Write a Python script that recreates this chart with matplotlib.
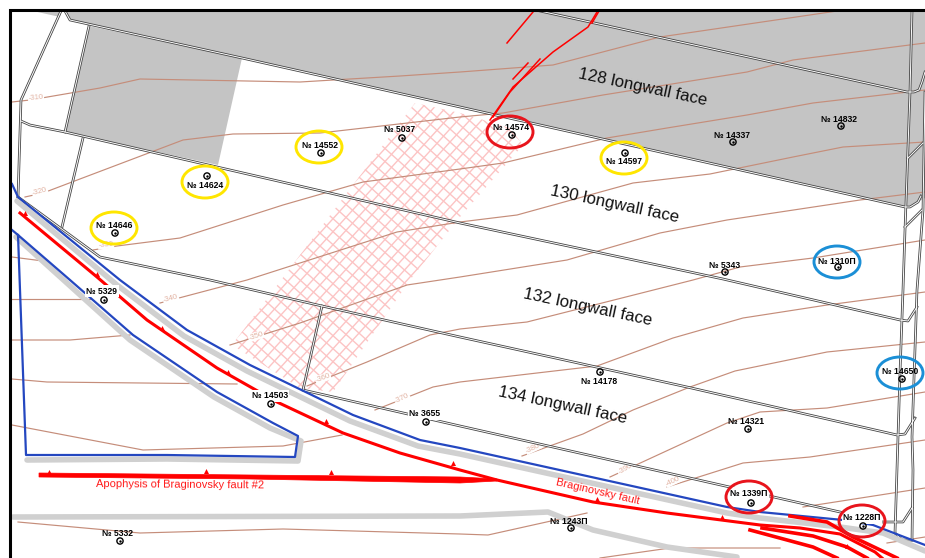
import numpy as np
import matplotlib
matplotlib.use('Agg')
import matplotlib.pyplot as plt
from matplotlib.patches import Ellipse, Polygon

plt.rcParams['font.family'] = ['Liberation Sans', 'DejaVu Sans']

gray_upper = [(65, 11), (70, 20), (242, 58), (460, 107), (905, 207), (910, 207), (918, 202), (925, 198), (925, 11)]
gray_left = [(89, 26), (242, 58), (218, 165), (65, 132)]
gray_corner = [(33, 11), (61, 11), (60, 17)]
hatch_band = [(415, 103), (460, 113), (510, 128), (523, 145), (460, 217), (410, 280), (333, 392), (300, 388),
              (232, 345)]

roads = [
    [(65, 11), (70, 20), (242, 58), (460, 107), (905, 207), (910, 207), (918, 202), (921, 196)],
    [(540, 11), (907, 92), (914, 92), (919, 90), (922, 82), (925, 72)],
    [(21, 121), (30, 125), (65, 132), (330, 193), (460, 223), (723, 279), (900, 320), (908, 321), (917, 307)],
    [(18, 197), (100, 257), (210, 280), (322, 306), (460, 337), (687, 387), (897, 435), (905, 434), (915, 418)],
    [(303, 390), (460, 426), (840, 512), (880, 522), (903, 522), (912, 508)],
    [(61, 11), (21, 100), (18, 197)],
    [(89, 26), (65, 132)],
    [(83, 138), (62, 227)],
    [(322, 306), (303, 390)],
    [(912, 11), (910, 92), (905, 230), (903, 290), (900, 373), (898, 437), (895, 533), (902, 540), (912, 540)],
    [(925, 92), (923, 210), (917, 290), (912, 437), (913, 470), (912, 540)],
    [(908, 158), (923, 143)],
    [(905, 227), (922, 210)],
]

contours = [
    [(12, 102), (30, 100), (100, 88), (140, 79), (300, 82), (400, 76), (460, 72), (553, 65), (660, 37), (837, 11)],
    [(25, 197), (43, 193), (72, 182), (183, 140), (233, 134), (320, 133), (460, 117), (503, 113), (603, 95),
     (747, 72), (793, 60), (925, 43)],
    [(93, 250), (117, 246), (180, 238), (283, 205), (363, 182), (460, 169), (503, 163), (607, 138), (667, 128),
     (747, 115), (813, 103), (925, 90)],
    [(160, 303), (247, 280), (300, 263), (397, 232), (460, 222), (517, 215), (633, 183), (710, 174), (793, 157),
     (843, 147), (925, 142)],
    [(230, 345), (300, 323), (407, 285), (460, 277), (567, 260), (660, 233), (727, 220), (860, 200), (925, 192)],
    [(307, 386), (367, 362), (430, 335), (460, 329), (527, 322), (693, 280), (740, 267), (813, 258), (925, 240)],
    [(375, 410), (433, 387), (460, 382), (597, 366), (673, 338), (743, 318), (827, 305), (925, 292)],
    [(522, 456), (583, 434), (633, 410), (690, 387), (735, 371), (827, 352), (925, 342)],
    [(610, 477), (727, 423), (760, 412), (827, 408), (925, 392)],
    [(667, 487), (743, 463), (810, 457), (925, 440)],
    [(803, 507), (925, 488)],
    [(12, 299), (90, 299)],
    [(12, 340), (70, 340), (130, 335)],
    [(12, 379), (47, 382), (237, 384)],
    [(12, 425), (143, 450), (283, 446), (342, 435)],
    [(12, 257), (43, 261)],
    [(18, 522), (140, 533), (283, 529), (460, 534), (488, 535), (587, 513)],
    [(600, 558), (670, 548), (780, 548)],
    [(887, 543), (925, 537)],
]
contour_labels = ['-310', '-320', '-330', '-340', '-350', '-360', '-370', '-380', '-390', '-400']
contour_label_x = [36, 40, 106, 171, 256, 323, 402, 533, 625, 673]
contour_label_y = [98, 192, 245, 299, 336, 378, 398, 448, 469, 481]
contour_label_rot = [5, 15, 5, 15, 18, 20, 25, 25, 30, 25]

blue_fault = [(12, 184), (18, 197), (120, 280), (187, 330), (250, 365), (353, 415), (420, 440), (460, 448),
              (727, 507), (760, 512), (843, 520), (873, 525), (925, 545)]
blue_block = [(12, 230), (18, 235), (70, 280), (133, 335), (217, 392), (273, 423), (298, 436), (295, 457),
              (167, 455), (26, 455), (18, 235)]
gray_band_top = [(17, 201), (117, 285), (184, 336), (247, 371), (350, 421), (418, 446), (460, 454), (727, 513),
                 (760, 518), (840, 527), (883, 533), (925, 551)]
gray_band_block = [(16, 237), (68, 284), (130, 340), (214, 397), (270, 428), (301, 441), (298, 461), (167, 459),
                   (27, 460)]
gray_band_low = [(13, 517), (460, 516), (548, 512), (593, 530), (667, 547), (737, 557)]

red_fault = [(20, 213), (97, 277), (147, 320), (217, 368), (277, 402), (343, 433), (400, 453), (460, 470),
             (497, 480), (593, 502), (667, 513), (760, 525), (800, 528), (840, 534), (875, 552), (882, 558)]
red_branches = [
    [(790, 516), (827, 522), (853, 537), (897, 558)],
    [(762, 528), (813, 536), (847, 547), (867, 558)],
    [(750, 530), (813, 547), (837, 558)],
]
red_thin = [
    [(490, 120), (513, 87), (553, 52), (588, 27), (597, 12)],
    [(493, 117), (510, 92), (540, 59)],
    [(513, 79), (528, 63)],
    [(507, 43), (533, 12)],
    [(592, 23), (599, 11)],
]
apophysis = [(39, 473), (250, 475), (460, 477), (497, 479), (497, 481), (460, 483), (250, 479), (39, 477)]
tick_x = [25, 97, 162, 228, 326, 453, 597, 722, 847, 49, 206, 331]
tick_y = [213, 274, 328, 372, 421, 463, 499, 517, 546, 472, 471, 472]

well_names = ['№ 14646', '№ 14624', '№ 14552', '№ 5037', '№ 14574', '№ 14597', '№ 14337', '№ 14832', '№ 5343',
              '№ 1310П', '№ 14650', '№ 14178', '№ 14321', '№ 1339П', '№ 1228П', '№ 1243П', '№ 5329', '№ 14503',
              '№ 3655', '№ 5332']
well_x = [115, 207, 321, 402, 512, 625, 733, 841, 725, 838, 902, 600, 748, 751, 863, 571, 104, 271, 426, 120]
well_y = [233, 176, 153, 138, 135, 153, 142, 126, 272, 267, 379, 372, 429, 503, 526, 528, 300, 404, 422, 541]
label_x = [114, 205, 320, 400, 511, 624, 732, 839, 725, 837, 900, 599, 746, 749, 862, 569, 102, 270, 425, 118]
label_y = [226, 185, 146, 130, 128, 161, 135, 120, 266, 261, 371, 381, 422, 493, 518, 521, 291, 396, 414, 534]
knockout = ['№ 5329', '№ 14503', '№ 1228П', '№ 1339П', '№ 3655']

ring_x = [114, 205, 319, 624, 510, 749, 862, 837, 900]
ring_y = [228, 182, 147, 158, 132, 497, 521, 262, 373]
ring_colors = ['#ffe600', '#ffe600', '#ffe600', '#ffe600', '#e8141c', '#e8141c', '#e8141c', '#1b8fd6', '#1b8fd6']

face_names = ['128 longwall face', '130 longwall face', '132 longwall face', '134 longwall face']
face_x = [643, 615, 588, 563]
face_y = [87, 204, 307, 405]

fig = plt.figure(figsize=(9.25, 5.58), dpi=100)
ax = fig.add_axes([0, 0, 1, 1])
ax.set_xlim(0, 925)
ax.set_ylim(558, 0)
ax.axis('off')

for poly in [gray_upper, gray_left, gray_corner]:
    ax.add_patch(Polygon(poly, closed=True, fc='#c4c4c4', ec='none', zorder=1))

# the crosshatch on the barrier pillar
clip = Polygon(hatch_band, closed=True, fc='none', ec='none', transform=ax.transData)
ax.add_patch(clip)
for offset in np.arange(-900, 1400, 13):
    a, = ax.plot([0, 925], [offset, offset + 925 * 0.9], color='#fcc4c4', lw=1.0, zorder=2)
    b, = ax.plot([0, 925], [offset + 900, offset + 900 - 925 * 1.1], color='#fcc4c4', lw=1.0, zorder=2)
    a.set_clip_path(clip)
    b.set_clip_path(clip)

for c in contours:
    pts = np.array(c)
    ax.plot(pts[:, 0], pts[:, 1], color='#c58d7a', lw=0.85, zorder=3)
for name, x, y, r in zip(contour_labels, contour_label_x, contour_label_y, contour_label_rot):
    ax.text(x, y, name, fontsize=5.5, color='#e2b3a3', rotation=r, ha='center', va='center', zorder=3.5,
            bbox=dict(fc='white', ec='none', pad=0.4))

for r in roads:
    pts = np.array(r)
    ax.plot(pts[:, 0], pts[:, 1], color='#444444', lw=1.9, zorder=4, solid_joinstyle='round')
    ax.plot(pts[:, 0], pts[:, 1], color='white', lw=0.7, zorder=4.1, solid_joinstyle='round')

for band in [gray_band_top, gray_band_block, gray_band_low]:
    pts = np.array(band)
    ax.plot(pts[:, 0], pts[:, 1], color='#d0d0d0', lw=4, zorder=4.5, solid_capstyle='round')

for line in [blue_fault, blue_block]:
    pts = np.array(line)
    ax.plot(pts[:, 0], pts[:, 1], color='#2447c0', lw=1.6, zorder=5)

pts = np.array(red_fault)
ax.plot(pts[:, 0], pts[:, 1], color='#ff0000', lw=2.2, zorder=6)
for line in red_branches:
    pts = np.array(line)
    ax.plot(pts[:, 0], pts[:, 1], color='#ff0000', lw=2.6, zorder=6)
for line in red_thin:
    pts = np.array(line)
    ax.plot(pts[:, 0], pts[:, 1], color='#ff0000', lw=1.1, zorder=6)
ax.add_patch(Polygon(apophysis, closed=True, fc='#ff0000', ec='#ff0000', lw=0.5, zorder=6))
ax.scatter(tick_x, tick_y, marker='^', s=13, color='#ff0000', linewidths=0, zorder=6)

ax.text(180, 485, 'Apophysis of Braginovsky fault #2', fontsize=8, color='#ff1a1a', ha='center', va='center',
        rotation=-0.5, zorder=7)
ax.text(598, 492, 'Braginovsky fault', fontsize=8, color='#ff1a1a', ha='center', va='center', rotation=-13, zorder=7)

for name, x, y in zip(face_names, face_x, face_y):
    ax.text(x, y, name, fontsize=12.2, color='#111111', ha='center', va='center', rotation=-12, zorder=7)

ax.scatter(well_x, well_y, s=20, facecolors='none', edgecolors='black', linewidths=1.0, zorder=8)
ax.scatter(well_x, well_y, s=3, color='black', linewidths=0, zorder=8)
for name, x, y in zip(well_names, label_x, label_y):
    box = dict(fc='white', ec='none', pad=1) if name in knockout else None
    ax.text(x, y, name, fontsize=6.2, fontweight='bold', color='black', ha='center', va='center', zorder=7.5, bbox=box)

for x, y, col in zip(ring_x, ring_y, ring_colors):
    ax.add_patch(Ellipse((x, y), 46, 32, fc='none', ec=col, lw=2.1, zorder=9))

# map frame, only top and left are in the crop
ax.plot([925, 10, 10], [10, 10, 558], color='black', lw=2.2, zorder=10, solid_joinstyle='miter')

fig.savefig('out.png', dpi=100)
